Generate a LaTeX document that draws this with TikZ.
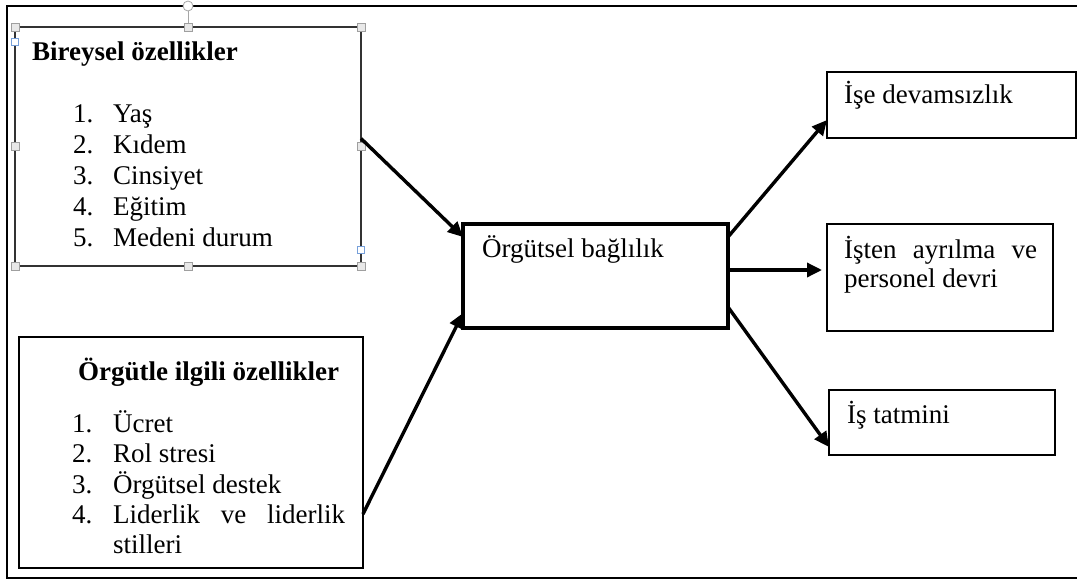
\documentclass[tikz,border=0pt]{standalone}
\usepackage{fontspec}
\setmainfont{Liberation Serif}
\usetikzlibrary{arrows.meta}
\begin{document}
\begin{tikzpicture}[x=1pt,y=-1pt,
  txt/.style={anchor=base west,inner sep=0pt,font=\fontsize{27}{31}\selectfont},
  ttl/.style={anchor=base west,inner sep=0pt,font=\fontsize{27}{31}\selectfont\bfseries},
  box/.style={draw,rectangle,anchor=north west,inner sep=0pt,outer sep=0pt,line width=2.6pt},
  arr/.style={line width=3.4pt,-{Triangle[length=15pt,width=14pt]}},
  handle/.style={draw=gray!75,fill=gray!18,line width=0.8pt,minimum size=8pt,inner sep=0pt,rectangle},
  bluehandle/.style={draw=cyan!50!blue!55,fill=white,line width=0.8pt,minimum size=7pt,inner sep=0pt,rectangle}]

\useasboundingbox (0,0) rectangle (1077,581);

% page frame (open on the right)
\coordinate (ftr) at (1077,6);
\coordinate (ftl) at (7,6);
\coordinate (fbl) at (7,578);
\coordinate (fbr) at (1077,578);
\draw[line width=1.4pt] (ftr) -- (ftl) -- (fbl) -- (fbr);

% individual characteristics
\node[box,line width=1.6pt,draw=black!80,minimum width=346pt,minimum height=239pt] (bir) at (15,27) {};
\node[ttl] (birT) at (32,60) {Bireysel özellikler};
\node[txt] (b1n) at (73,122) {1.};  \node[txt] (b1) at (113,122) {Yaş};
\node[txt] (b2n) at (73,153) {2.};  \node[txt] (b2) at (113,153) {Kıdem};
\node[txt] (b3n) at (73,184) {3.};  \node[txt] (b3) at (113,184) {Cinsiyet};
\node[txt] (b4n) at (73,215) {4.};  \node[txt] (b4) at (113,215) {Eğitim};
\node[txt] (b5n) at (73,246) {5.};  \node[txt] (b5) at (113,246) {Medeni durum};

% selection handles around the first box
\coordinate (rot) at (188,6);
\draw[gray!70,line width=0.8pt] (rot) -- (bir.north);
\node[draw=gray!70,fill=white,circle,minimum size=10pt,inner sep=0pt,line width=0.8pt] (rotc) at (rot) {};
\node[handle] (h1) at (bir.north west) {};
\node[handle] (h2) at (bir.north) {};
\node[handle] (h3) at (bir.north east) {};
\node[handle] (h4) at (bir.west) {};
\node[handle] (h5) at (bir.east) {};
\node[handle] (h6) at (bir.south west) {};
\node[handle] (h7) at (bir.south) {};
\node[handle] (h8) at (bir.south east) {};
\node[bluehandle] (hb1) at ([yshift=-15pt]bir.north west) {};
\node[bluehandle] (hb2) at ([yshift=16pt]bir.south east) {};

% organisational characteristics
\node[box,minimum width=344pt,minimum height=231pt] (org) at (19,337) {};
\node[ttl] (orgT) at (78,380) {Örgütle ilgili özellikler};
\node[txt] (o1n) at (72,432) {1.};  \node[txt] (o1) at (113,432) {Ücret};
\node[txt] (o2n) at (72,462) {2.};  \node[txt] (o2) at (113,462) {Rol stresi};
\node[txt] (o3n) at (72,493) {3.};  \node[txt] (o3) at (113,493) {Örgütsel destek};
\node[txt] (o4n) at (72,523) {4.};  \node[txt] (o4) at (113,523) {\makebox[232pt][s]{Liderlik ve liderlik}};
\node[txt] (o4b) at (113,553) {stilleri};

% organisational commitment
\node[box,line width=3.8pt,minimum width=265pt,minimum height=104pt] (bag) at (463,224) {};
\node[txt] (bagT) at (482,257) {Örgütsel bağlılık};

% outcomes
\node[box,minimum width=249pt,minimum height=66pt] (dev) at (827,72) {};
\node[txt] (devT) at (844,103) {İşe devamsızlık};
\node[box,minimum width=226pt,minimum height=107pt] (ayr) at (827,224) {};
\node[txt] (ayrT1) at (844,258) {\makebox[193pt][s]{İşten ayrılma ve}};
\node[txt] (ayrT2) at (844,287) {personel devri};
\node[box,minimum width=226pt,minimum height=65pt] (tat) at (829,390) {};
\node[txt] (tatT) at (847,423) {İş tatmini};

% connectors
\draw[arr] ([yshift=8pt]bir.east) -- ([yshift=-13pt]bag.north west);
\draw[arr] ([yshift=54pt]org.south east) -- ([yshift=15pt]bag.south west);
\draw[arr] ([yshift=-13pt]bag.north east) -- ([yshift=-15pt]dev.west);
\draw[arr,shorten >=5pt] ([yshift=6pt]bag.east) -- ([yshift=7.5pt]ayr.west);
\draw[arr] ([yshift=21pt]bag.south east) -- ([yshift=8pt]tat.south west);
\end{tikzpicture}
\end{document}
